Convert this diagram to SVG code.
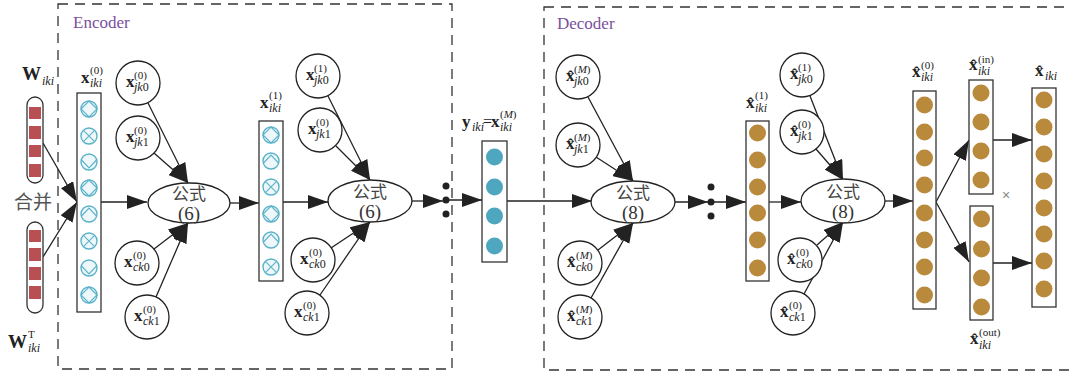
<svg xmlns="http://www.w3.org/2000/svg" width="1071" height="380" viewBox="0 0 1071 380">
<defs>
<style>
.frame{fill:none;stroke:#333;stroke-width:1.3;stroke-dasharray:10 7}
.box{fill:#fff;stroke:#333;stroke-width:1.3}
.node{fill:#fff;stroke:#222;stroke-width:1.3}
.ln{stroke:#222;stroke-width:1.3;fill:none;marker-end:url(#ah)}
.tx{font-family:"Liberation Serif",serif;fill:#222}
.b{font-weight:bold;font-size:17px}
.sp{font-size:11px}
.sb{font-size:12px;font-style:italic}
.up{font-style:normal}
.it{font-style:italic}
.cn{font-family:"Noto Sans CJK SC",sans-serif;fill:#444;font-size:17px}
.eq{font-family:"Liberation Serif",serif;fill:#333;font-size:19px}
.gold{fill:#b9893c}
.blue{fill:#4fa7bf}
.ring{fill:#eef7fa;stroke:#5bb3ca;stroke-width:1.4}
.sym{fill:none;stroke:#5bb3ca;stroke-width:1.1}
.sq{fill:#b84f52}
.dot{fill:#222}
.lab{font-family:"Liberation Serif",serif;fill:#7b4f9d;font-size:17px}
</style>
<marker id="ah" markerUnits="userSpaceOnUse" markerWidth="20" markerHeight="14" refX="20" refY="7" orient="auto">
<path d="M0,0 L20,7 L0,14 z" fill="#222"/>
</marker>
<g id="cx"><circle r="8" class="ring"/><path class="sym" d="M-5.6,-5.6 L5.6,5.6 M-5.6,5.6 L5.6,-5.6"/></g>
<g id="cd"><circle r="8" class="ring"/><path class="sym" d="M0,-8 L8,0 L0,8 L-8,0 z"/></g>
<g id="cv"><circle r="8" class="ring"/><path class="sym" d="M-7.5,-2 L0,6 L7.5,-2"/></g>
<g id="ca"><circle r="8" class="ring"/><path class="sym" d="M-7.5,2 L0,-6 L7.5,2"/></g>
</defs>
<rect width="1071" height="380" fill="#fff"/>

<g id="encoder-frame">
<rect x="58" y="4" width="394" height="365" class="frame"/>
<text x="73" y="28" class="lab">Encoder</text>
</g>
<g id="decoder-frame">
<rect x="544" y="7" width="540" height="363" class="frame"/>
<text x="557" y="29" class="lab">Decoder</text>
</g>

<g id="connectors">
<line x1="43" y1="143" x2="77" y2="202" class="ln"/>
<line x1="43" y1="257" x2="77" y2="202" class="ln"/>
<line x1="101" y1="202" x2="147" y2="202" class="ln"/>
<line x1="148" y1="103" x2="188" y2="183" class="ln"/>
<line x1="154" y1="153" x2="188" y2="183" class="ln"/>
<line x1="154" y1="249" x2="188" y2="223" class="ln"/>
<line x1="156" y1="297" x2="188" y2="223" class="ln"/>
<line x1="230" y1="203" x2="259" y2="203" class="ln"/>
<line x1="283" y1="202" x2="328" y2="202" class="ln"/>
<line x1="328" y1="96" x2="370" y2="180" class="ln"/>
<line x1="336" y1="146" x2="370" y2="180" class="ln"/>
<line x1="331" y1="248" x2="370" y2="222" class="ln"/>
<line x1="320" y1="295" x2="370" y2="222" class="ln"/>
<line x1="412" y1="201" x2="443" y2="201" class="ln"/>
<line x1="447" y1="200" x2="482" y2="200" class="ln"/>
<line x1="507" y1="201" x2="592" y2="201" class="ln"/>
<line x1="588" y1="97" x2="633" y2="181" class="ln"/>
<line x1="596" y1="157" x2="633" y2="181" class="ln"/>
<line x1="598" y1="250" x2="633" y2="223" class="ln"/>
<line x1="591" y1="298" x2="633" y2="223" class="ln"/>
<line x1="675" y1="202" x2="708" y2="202" class="ln"/>
<line x1="712" y1="202" x2="746" y2="202" class="ln"/>
<line x1="769" y1="202" x2="801" y2="202" class="ln"/>
<line x1="810" y1="96" x2="843" y2="180" class="ln"/>
<line x1="816" y1="149" x2="843" y2="180" class="ln"/>
<line x1="817" y1="245" x2="843" y2="222" class="ln"/>
<line x1="804" y1="294" x2="843" y2="222" class="ln"/>
<line x1="885" y1="201" x2="913" y2="201" class="ln"/>
<line x1="936" y1="202" x2="969" y2="140" class="ln"/>
<line x1="936" y1="202" x2="969" y2="262" class="ln"/>
<line x1="993" y1="140" x2="1032" y2="140" class="ln"/>
<line x1="993" y1="263" x2="1032" y2="263" class="ln"/>
<circle cx="446" cy="186" r="3.5" class="dot"/>
<circle cx="446" cy="200" r="3.5" class="dot"/>
<circle cx="446" cy="214" r="3.5" class="dot"/>
<circle cx="711" cy="187" r="3.5" class="dot"/>
<circle cx="711" cy="202" r="3.5" class="dot"/>
<circle cx="711" cy="216" r="3.5" class="dot"/>
</g>

<g id="w-input">
<rect x="27" y="97" width="16" height="86" rx="8" class="box"/>
<rect x="29" y="107" width="12" height="12" class="sq"/>
<rect x="29" y="126" width="12" height="13" class="sq"/>
<rect x="29" y="145" width="12" height="12" class="sq"/>
<rect x="29" y="164" width="12" height="13" class="sq"/>
<text x="22" y="80" class="tx" font-weight="bold" font-size="19">W</text>
<text x="42" y="85" class="tx sb">iki</text>
</g>
<g id="wt-input">
<rect x="27" y="222" width="16" height="91" rx="8" class="box"/>
<rect x="29" y="230" width="12" height="12" class="sq"/>
<rect x="29" y="248" width="12" height="13" class="sq"/>
<rect x="29" y="267" width="12" height="13" class="sq"/>
<rect x="29" y="286" width="12" height="13" class="sq"/>
<text x="8" y="348" class="tx" font-weight="bold" font-size="19">W</text>
<text x="28" y="338" class="tx sp">T</text>
<text x="28" y="352" class="tx sb">iki</text>
</g>
<g id="merge-label">
<text x="14" y="209" font-family="Noto Sans CJK SC, sans-serif" font-size="19" fill="#555">合并</text>
</g>

<g id="v0">
<rect x="77" y="93" width="24" height="219" class="box"/>
<use href="#cd" x="89" y="109"/>
<use href="#cx" x="89" y="136"/>
<use href="#cv" x="89" y="162"/>
<use href="#cd" x="89" y="188"/>
<use href="#ca" x="89" y="214"/>
<use href="#cx" x="89" y="241"/>
<use href="#cv" x="89" y="268"/>
<use href="#cd" x="89" y="295"/>
<text x="81" y="83" class="tx b">x</text>
<text x="90" y="74" class="tx sp">(0)</text>
<text x="90" y="87" class="tx sb">iki</text>
</g>

<g id="e1">
<ellipse cx="189" cy="203" rx="41" ry="20" class="node"/>
<text x="189" y="200" class="cn" text-anchor="middle">公式</text>
<text x="189" y="220" class="eq" text-anchor="middle">(6)</text>
</g>
<g id="e1-jk0"><circle cx="138" cy="83" r="22" class="node"/><text x="126" y="87" class="tx b">x</text><text x="134" y="79" class="tx sp">(0)</text><text x="134" y="91" class="tx sb">jk<tspan class="up">0</tspan></text></g>
<g id="e1-jk1"><circle cx="138" cy="138" r="22" class="node"/><text x="126" y="142" class="tx b">x</text><text x="134" y="134" class="tx sp">(0)</text><text x="134" y="146" class="tx sb">jk<tspan class="up">1</tspan></text></g>
<g id="e1-ck0"><circle cx="137" cy="263" r="22" class="node"/><text x="124" y="267" class="tx b">x</text><text x="133" y="259" class="tx sp">(0)</text><text x="133" y="271" class="tx sb">ck<tspan class="up">0</tspan></text></g>
<g id="e1-ck1"><circle cx="147" cy="317" r="22" class="node"/><text x="134" y="321" class="tx b">x</text><text x="143" y="313" class="tx sp">(0)</text><text x="143" y="325" class="tx sb">ck<tspan class="up">1</tspan></text></g>

<g id="v1">
<rect x="259" y="121" width="24" height="160" class="box"/>
<use href="#cd" x="271" y="135"/>
<use href="#ca" x="271" y="161"/>
<use href="#cx" x="271" y="187"/>
<use href="#cd" x="271" y="214"/>
<use href="#ca" x="271" y="240"/>
<use href="#cx" x="271" y="267"/>
<text x="260" y="108" class="tx b">x</text>
<text x="269" y="99" class="tx sp">(1)</text>
<text x="269" y="112" class="tx sb">iki</text>
</g>

<g id="e2">
<ellipse cx="370" cy="201" rx="42" ry="21" class="node"/>
<text x="370" y="198" class="cn" text-anchor="middle">公式</text>
<text x="370" y="218" class="eq" text-anchor="middle">(6)</text>
</g>
<g id="e2-jk0"><circle cx="318" cy="76" r="22" class="node"/><text x="306" y="80" class="tx b">x</text><text x="314" y="72" class="tx sp">(1)</text><text x="314" y="84" class="tx sb">jk<tspan class="up">0</tspan></text></g>
<g id="e2-jk1"><circle cx="320" cy="130" r="22" class="node"/><text x="308" y="134" class="tx b">x</text><text x="316" y="126" class="tx sp">(0)</text><text x="316" y="138" class="tx sb">jk<tspan class="up">1</tspan></text></g>
<g id="e2-ck0"><circle cx="313" cy="260" r="22" class="node"/><text x="300" y="264" class="tx b">x</text><text x="309" y="256" class="tx sp">(0)</text><text x="309" y="268" class="tx sb">ck<tspan class="up">0</tspan></text></g>
<g id="e2-ck1"><circle cx="307" cy="313" r="22" class="node"/><text x="294" y="317" class="tx b">x</text><text x="303" y="309" class="tx sp">(0)</text><text x="303" y="321" class="tx sb">ck<tspan class="up">1</tspan></text></g>

<g id="vy">
<rect x="482" y="141" width="25" height="121" class="box"/>
<circle cx="494.5" cy="157" r="8.5" class="blue"/>
<circle cx="494.5" cy="187" r="8.5" class="blue"/>
<circle cx="494.5" cy="216" r="8.5" class="blue"/>
<circle cx="494.5" cy="246" r="8.5" class="blue"/>
<text x="462" y="127" class="tx b">y</text>
<text x="472" y="131" class="tx sb">iki</text>
<text x="483" y="127" class="tx" font-size="16">=</text>
<text x="491" y="127" class="tx b">x</text>
<text x="500" y="118" class="tx sp">(<tspan class="it">M</tspan>)</text>
<text x="500" y="131" class="tx sb">iki</text>
</g>

<g id="d1">
<ellipse cx="633" cy="202" rx="42" ry="21" class="node"/>
<text x="633" y="199" class="cn" text-anchor="middle">公式</text>
<text x="633" y="219" class="eq" text-anchor="middle">(8)</text>
</g>
<g id="d1-jk0"><circle cx="578" cy="77" r="22" class="node"/><text x="566" y="81" class="tx b">x̂</text><text x="574" y="73" class="tx sp">(<tspan class="it">M</tspan>)</text><text x="574" y="85" class="tx sb">jk<tspan class="up">0</tspan></text></g>
<g id="d1-jk1"><circle cx="578" cy="145" r="22" class="node"/><text x="566" y="149" class="tx b">x̂</text><text x="574" y="141" class="tx sp">(<tspan class="it">M</tspan>)</text><text x="574" y="153" class="tx sb">jk<tspan class="up">1</tspan></text></g>
<g id="d1-ck0"><circle cx="580" cy="263" r="22" class="node"/><text x="567" y="267" class="tx b">x̂</text><text x="576" y="259" class="tx sp">(<tspan class="it">M</tspan>)</text><text x="576" y="271" class="tx sb">ck<tspan class="up">0</tspan></text></g>
<g id="d1-ck1"><circle cx="580" cy="317" r="22" class="node"/><text x="567" y="321" class="tx b">x̂</text><text x="576" y="313" class="tx sp">(<tspan class="it">M</tspan>)</text><text x="576" y="325" class="tx sb">ck<tspan class="up">1</tspan></text></g>

<g id="vd1">
<rect x="746" y="121" width="23" height="160" class="box"/>
<circle cx="757.5" cy="133" r="8.5" class="gold"/>
<circle cx="757.5" cy="160" r="8.5" class="gold"/>
<circle cx="757.5" cy="187" r="8.5" class="gold"/>
<circle cx="757.5" cy="213" r="8.5" class="gold"/>
<circle cx="757.5" cy="240" r="8.5" class="gold"/>
<circle cx="757.5" cy="268" r="8.5" class="gold"/>
<text x="746" y="108" class="tx b">x̂</text>
<text x="755" y="99" class="tx sp">(1)</text>
<text x="755" y="112" class="tx sb">iki</text>
</g>

<g id="d2">
<ellipse cx="843" cy="201" rx="42" ry="22" class="node"/>
<text x="843" y="198" class="cn" text-anchor="middle">公式</text>
<text x="843" y="218" class="eq" text-anchor="middle">(8)</text>
</g>
<g id="d2-jk0"><circle cx="802" cy="75" r="22" class="node"/><text x="790" y="79" class="tx b">x̂</text><text x="798" y="71" class="tx sp">(1)</text><text x="798" y="83" class="tx sb">jk<tspan class="up">0</tspan></text></g>
<g id="d2-jk1"><circle cx="802" cy="132" r="22" class="node"/><text x="790" y="136" class="tx b">x̂</text><text x="798" y="128" class="tx sp">(0)</text><text x="798" y="140" class="tx sb">jk<tspan class="up">1</tspan></text></g>
<g id="d2-ck0"><circle cx="800" cy="260" r="22" class="node"/><text x="787" y="264" class="tx b">x̂</text><text x="796" y="256" class="tx sp">(0)</text><text x="796" y="268" class="tx sb">ck<tspan class="up">0</tspan></text></g>
<g id="d2-ck1"><circle cx="793" cy="313" r="22" class="node"/><text x="780" y="317" class="tx b">x̂</text><text x="789" y="309" class="tx sp">(0)</text><text x="789" y="321" class="tx sb">ck<tspan class="up">1</tspan></text></g>

<g id="vd0">
<rect x="913" y="91" width="23" height="218" class="box"/>
<circle cx="924.5" cy="105" r="8.5" class="gold"/>
<circle cx="924.5" cy="132" r="8.5" class="gold"/>
<circle cx="924.5" cy="158" r="8.5" class="gold"/>
<circle cx="924.5" cy="185" r="8.5" class="gold"/>
<circle cx="924.5" cy="213" r="8.5" class="gold"/>
<circle cx="924.5" cy="240" r="8.5" class="gold"/>
<circle cx="924.5" cy="267" r="8.5" class="gold"/>
<circle cx="924.5" cy="295" r="8.5" class="gold"/>
<text x="912" y="77" class="tx b">x̂</text>
<text x="921" y="69" class="tx sp">(0)</text>
<text x="921" y="81" class="tx sb">iki</text>
</g>

<g id="vin">
<rect x="969" y="80" width="24" height="114" class="box"/>
<circle cx="981" cy="93" r="8.5" class="gold"/>
<circle cx="981" cy="122" r="8.5" class="gold"/>
<circle cx="981" cy="151" r="8.5" class="gold"/>
<circle cx="981" cy="180" r="8.5" class="gold"/>
<text x="969" y="70" class="tx b">x̂</text>
<text x="978" y="63" class="tx sp">(in)</text>
<text x="978" y="75" class="tx sb">iki</text>
</g>

<g id="vout">
<rect x="970" y="206" width="23" height="114" class="box"/>
<circle cx="981.5" cy="219" r="8.5" class="gold"/>
<circle cx="981.5" cy="249" r="8.5" class="gold"/>
<circle cx="981.5" cy="278" r="8.5" class="gold"/>
<circle cx="981.5" cy="307" r="8.5" class="gold"/>
<text x="970" y="344" class="tx b">x̂</text>
<text x="979" y="336" class="tx sp">(out)</text>
<text x="979" y="349" class="tx sb">iki</text>
</g>

<g id="times">
<text x="1006" y="200" text-anchor="middle" font-family="Liberation Sans, sans-serif" font-size="14" fill="#888">×</text>
</g>

<g id="vhat">
<rect x="1032" y="88" width="24" height="219" class="box"/>
<circle cx="1044" cy="100" r="8.5" class="gold"/>
<circle cx="1044" cy="127" r="8.5" class="gold"/>
<circle cx="1044" cy="154" r="8.5" class="gold"/>
<circle cx="1044" cy="181" r="8.5" class="gold"/>
<circle cx="1044" cy="208" r="8.5" class="gold"/>
<circle cx="1044" cy="234" r="8.5" class="gold"/>
<circle cx="1044" cy="261" r="8.5" class="gold"/>
<circle cx="1044" cy="289" r="8.5" class="gold"/>
<text x="1035" y="76" class="tx b">x̂</text>
<text x="1045" y="80" class="tx sb">iki</text>
</g>
</svg>
